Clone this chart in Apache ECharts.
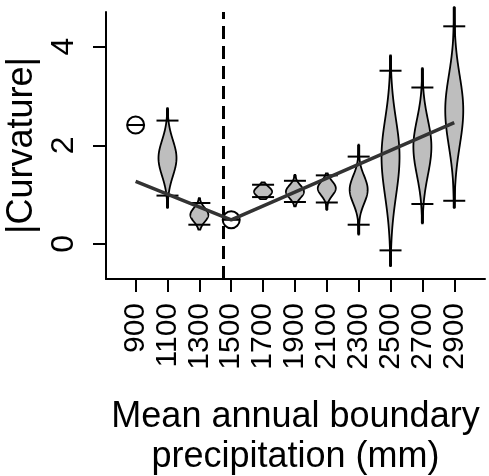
<!DOCTYPE html>
<html>
<head>
<meta charset="utf-8">
<script src="https://cdn.jsdelivr.net/npm/echarts@6/dist/echarts.min.js"></script>
<style>
  html, body { margin: 0; padding: 0; background: #fff; }
  #chart { width: 489px; height: 476px; }
</style>
</head>
<body>
<div id="chart"></div>
<script>
var chart = echarts.init(document.getElementById('chart'));

// categories (mm)
var precip = [900, 1100, 1300, 1500, 1700, 1900, 2100, 2300, 2500, 2700, 2900];
// whisker ends
var vMax = [2.41, 2.75, 0.93, 0.49, 1.245, 1.40, 1.43, 2.01, 3.82, 3.56, 4.80];
var vMin = [2.41, 0.73, 0.29, 0.49, 0.91, 0.76, 0.69, 0.19, -0.45, 0.42, 0.73];
// crossbars
var qHigh = [2.41, 2.50, 0.83, 0.49, 1.20, 1.28, 1.39, 1.77, 3.51, 3.17, 4.41];
var qLow = [2.41, 0.98, 0.39, 0.49, 0.95, 0.85, 0.84, 0.39, -0.13, 0.81, 0.875];
// density peak and spread above / below it
var peak = [2.41, 1.74, 0.59, 0.49, 1.06, 1.06, 1.13, 1.10, 1.77, 1.97, 2.71];
var spreadUp = [0, 0.36, 0.14, 0, 0.10, 0.13, 0.14, 0.28, 0.75, 0.55, 0.70];
var spreadDown = [0, 0.36, 0.14, 0, 0.10, 0.13, 0.15, 0.28, 0.80, 0.58, 0.72];

// piecewise fit
var fitX = [900, 1500, 2900];
var fitY = [1.27, 0.49, 2.46];
var breakX = 1450;

var yTicks = [0, 2, 4];
var font = 'Liberation Sans, Arial, Helvetica, sans-serif';

var violinData = precip.map(function (p, i) {
    return [p, vMin[i], vMax[i], qLow[i], qHigh[i], peak[i], spreadUp[i], spreadDown[i]];
});
var fitData = fitX.map(function (x, i) { return [x, fitY[i]]; });

var HALF = 9;   // violin half width px
var BAR = 11;   // crossbar half width px

function renderViolin(params, api) {
    var x = api.value(0), lo = api.value(1), hi = api.value(2);
    var ql = api.value(3), qh = api.value(4), m = api.value(5);
    var su = api.value(6), sd = api.value(7);
    var kids = [];
    var c = api.coord([x, m]);
    // single value: circle with a bar through it
    if (hi === lo) {
        kids.push({ type: 'circle', shape: { cx: c[0], cy: c[1], r: 8.5 },
            style: { fill: '#fff', stroke: '#000', lineWidth: 2 } });
        kids.push({ type: 'line', shape: { x1: c[0] - 8.5, y1: c[1], x2: c[0] + 8.5, y2: c[1] },
            style: { stroke: '#000', lineWidth: 2 } });
        return { type: 'group', children: kids };
    }
    var top = api.coord([x, hi]), bot = api.coord([x, lo]);
    kids.push({ type: 'line', shape: { x1: top[0], y1: top[1], x2: bot[0], y2: bot[1] },
        style: { stroke: '#000', lineWidth: 3 } });
    var right = [], left = [], steps = 120;
    for (var i = 0; i <= steps; i++) {
        var v = hi - (hi - lo) * i / steps;
        var s = v > m ? su : sd;
        var w = HALF * Math.exp(-0.5 * Math.pow((v - m) / s, 2));
        var p = api.coord([x, v]);
        right.push([p[0] + w, p[1]]);
        left.unshift([p[0] - w, p[1]]);
    }
    kids.push({ type: 'polygon', shape: { points: right.concat(left) },
        style: { fill: '#bebebe', stroke: '#000', lineWidth: 1.8 } });
    [ql, qh].forEach(function (q) {
        var b = api.coord([x, q]);
        kids.push({ type: 'line', shape: { x1: b[0] - BAR, y1: b[1], x2: b[0] + BAR, y2: b[1] },
            style: { stroke: '#000', lineWidth: 2 } });
    });
    return { type: 'group', children: kids };
}

var option = {
    animation: false,
    backgroundColor: '#fff',
    grid: { left: 106, right: 4, top: 12, bottom: 197, outerBoundsMode: 'none' },
    xAxis: {
        type: 'value',
        min: 714,
        max: 3093,
        splitLine: { show: false },
        axisLine: { onZero: false, lineStyle: { color: '#000', width: 2 } },
        axisTick: { customValues: precip, length: 13, lineStyle: { color: '#000', width: 2 } },
        axisLabel: { customValues: precip, rotate: 90, margin: 24, fontSize: 30,
            color: '#000', fontFamily: font,
            formatter: function (v) { return String(v); } },
        name: 'Mean annual boundary\nprecipitation (mm)',
        nameLocation: 'middle',
        nameGap: 118,
        nameTextStyle: { fontSize: 36, color: '#000', fontFamily: font, lineHeight: 40 }
    },
    yAxis: {
        type: 'value',
        min: -0.71,
        max: 4.70,
        splitLine: { show: false },
        axisLine: { show: true, onZero: false, lineStyle: { color: '#000', width: 2 } },
        axisTick: { show: true, customValues: yTicks, length: 13, lineStyle: { color: '#000', width: 2 } },
        axisLabel: { customValues: yTicks, rotate: 90, margin: 26, fontSize: 32,
            color: '#000', fontFamily: font },
        name: '|Curvature|',
        nameLocation: 'middle',
        nameGap: 55,
        nameTextStyle: { fontSize: 36, color: '#000', fontFamily: font }
    },
    series: [
        {
            type: 'custom',
            renderItem: renderViolin,
            data: violinData,
            encode: { x: 0, y: [1, 2] },
            clip: false,
            z: 2
        },
        {
            type: 'line',
            data: fitData,
            symbol: 'none',
            lineStyle: { color: '#333', width: 3.5 },
            z: 5,
            markLine: {
                silent: true,
                symbol: 'none',
                label: { show: false },
                lineStyle: { color: '#000', width: 3, type: [13, 7] },
                data: [{ xAxis: breakX }]
            }
        }
    ]
};
chart.setOption(option);
</script>
</body>
</html>
